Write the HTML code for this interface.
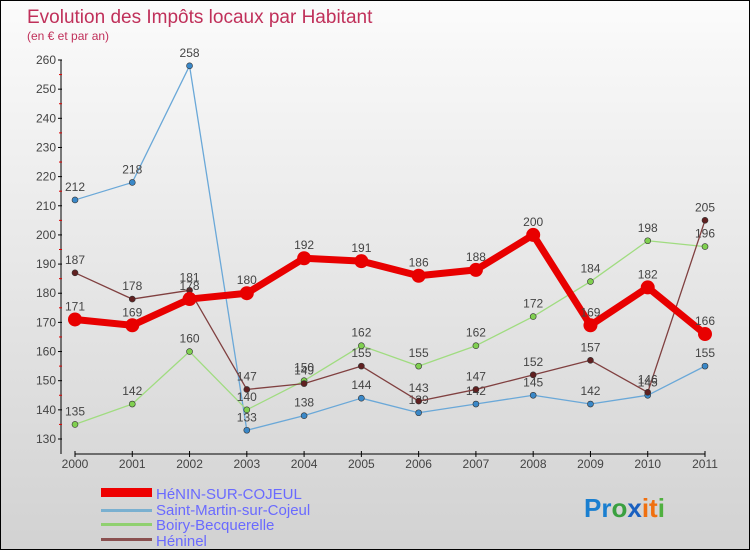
<!DOCTYPE html>
<html><head><meta charset="utf-8"><style>
html,body{margin:0;padding:0}
body{width:750px;height:550px;overflow:hidden;font-family:"Liberation Sans",sans-serif}
#wrap{position:relative;width:748px;height:548px;border:1px solid #000;background:linear-gradient(#fbfbfb,#d2d2d2)}
</style></head><body>
<div id="wrap">
<svg id="chart" width="748" height="548" style="position:absolute;left:0;top:0">
<text x="26" y="22" font-size="19" fill="#c0305a">Evolution des Impôts locaux par Habitant</text>
<text x="26" y="39" font-size="12" fill="#c0305a">(en € et par an)</text>
<g id="axes"></g><g id="series"></g>
<g>
<rect x="100" y="487" width="51" height="9" fill="#e00"/>
<text x="155" y="498" font-size="15" fill="#6a6aff">HéNIN-SUR-COJEUL</text>
<rect x="100" y="508" width="51" height="3" fill="#7ab0d0"/>
<text x="155" y="514" font-size="15" fill="#6a6aff">Saint-Martin-sur-Cojeul</text>
<rect x="100" y="522" width="51" height="3" fill="#90d070"/>
<text x="155" y="529" font-size="15" fill="#6a6aff">Boiry-Becquerelle</text>
<rect x="100" y="537" width="51" height="3" fill="#8a5050"/>
<text x="155" y="545" font-size="15" fill="#6a6aff">Héninel</text>
</g>
<text x="583" y="516" font-size="26" font-weight="bold"><tspan fill="#1a7fd0">Pr</tspan><tspan fill="#3aa040">o</tspan><tspan fill="#1a60c0">x</tspan><tspan fill="#f07010">it</tspan><tspan fill="#50b040">i</tspan></text>
</svg>
</div>
<script>
const years=[2000,2001,2002,2003,2004,2005,2006,2007,2008,2009,2010,2011];
const yTicks=[130,140,150,160,170,180,190,200,210,220,230,240,250,260];
const henin=[171,169,178,180,192,191,186,188,200,169,182,166];
const saintMartin=[212,218,258,133,138,144,139,142,145,142,145,155];
const boiry=[135,142,160,140,150,162,155,162,172,184,198,196];
const heninel=[187,178,181,147,149,155,143,147,152,157,146,205];
const NS="http://www.w3.org/2000/svg";
const X=i=>74+i*(630/11);
const Y=v=>438-(v-130)*(379/130);
function mk(t,a,p){const e=document.createElementNS(NS,t);for(const k in a)e.setAttribute(k,a[k]);p.appendChild(e);return e;}
const ax=document.getElementById('axes');
let l=mk('line',{x1:60,y1:Y(260),x2:60,y2:453,stroke:'#000'},ax);

l=mk('line',{x1:74,y1:453,x2:704,y2:453,stroke:'#000'},ax);

yTicks.forEach(v=>{
 mk('line',{x1:57,y1:Y(v),x2:61,y2:Y(v),stroke:'#000'},ax);
 if(v<260) mk('line',{x1:58,y1:Y(v+5),x2:61,y2:Y(v+5),stroke:'#d00'},ax);
 const t=mk('text',{x:55,y:Y(v)+4,'font-size':12,fill:'#444','text-anchor':'end'},ax);t.textContent=v;
 
});
years.forEach((y,i)=>{
 mk('line',{x1:X(i),y1:450,x2:X(i),y2:456,stroke:'#000'},ax);
 const t=mk('text',{x:X(i),y:467,'font-size':12,fill:'#444','text-anchor':'middle'},ax);t.textContent=y;
 
});
const sg=document.getElementById('series');
function draw(data,name,color,w,r,dot){
 const g=mk('g',{},sg);
 
 const pl=mk('polyline',{points:data.map((v,i)=>X(i)+','+Y(v)).join(' '),fill:'none',stroke:color,'stroke-width':w,'stroke-linejoin':'round'},g);
 
 data.forEach((v,i)=>{
  const c=mk('circle',{cx:X(i),cy:Y(v),r:r,fill:dot,stroke:'#333','stroke-width':r>4?0:0.6},g);
  
  const t=mk('text',{x:X(i),y:Y(v)-9,'font-size':12,fill:'#444','text-anchor':'middle'},g);t.textContent=v;
  
 });
}
draw(saintMartin,'saint-martin','#6aa8d8',1.3,3,'#3a88c8');
draw(boiry,'boiry','#a0dc80',1.3,3,'#80d050');
draw(heninel,'heninel','#804040',1.3,3,'#602020');
draw(henin,'henin','#e80000',7,7,'#e80000');
</script>
</body></html>
